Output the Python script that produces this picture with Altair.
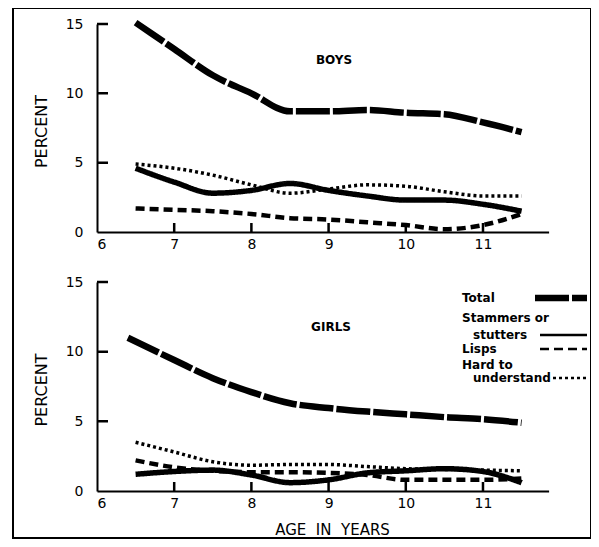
import altair as alt
import pandas as pd

# ---------------- data ----------------
ages = [6.5, 7, 7.5, 8, 8.5, 9, 9.5, 10, 10.5, 11, 11.5]
girls_total_ages = [6.4, 7, 7.5, 8, 8.5, 9, 9.5, 10, 10.5, 11, 11.5]
series_names = ["Total", "Stammers or stutters", "Lisps", "Hard to understand"]

boys_total = [15.1, 13.2, 11.3, 10.0, 8.7, 8.7, 8.8, 8.6, 8.5, 7.9, 7.2]
boys_stammers = [4.6, 3.6, 2.8, 3.0, 3.5, 3.0, 2.6, 2.3, 2.3, 2.0, 1.5]
boys_lisps = [1.7, 1.6, 1.5, 1.3, 1.0, 0.9, 0.7, 0.5, 0.2, 0.5, 1.3]
boys_hard = [4.9, 4.6, 4.1, 3.4, 2.8, 3.1, 3.4, 3.3, 2.9, 2.6, 2.6]

girls_total = [11.0, 9.4, 8.1, 7.1, 6.3, 5.95, 5.7, 5.5, 5.3, 5.15, 4.9]
girls_stammers = [1.2, 1.4, 1.5, 1.15, 0.6, 0.8, 1.3, 1.45, 1.6, 1.4, 0.6]
girls_lisps = [2.2, 1.7, 1.45, 1.35, 1.35, 1.3, 1.15, 0.8, 0.8, 0.8, 0.9]
girls_hard = [3.5, 2.8, 2.1, 1.85, 1.9, 1.9, 1.75, 1.6, 1.55, 1.5, 1.45]

x_tick_values = [7, 8, 9, 10, 11]
x_label_values = [6, 7, 8, 9, 10, 11]
y_tick_values = [5, 10, 15]
y_label_values = [0, 5, 10, 15]
panel_titles = ["BOYS", "GIRLS"]
legend_lines = ["Total", "Stammers or", "stutters", "Lisps", "Hard to", "understand"]
y_title = "PERCENT"
x_title = "AGE\u00a0\u00a0IN\u00a0\u00a0YEARS"

# ---------------- styling / layout ----------------
FONT = "DejaVu Sans"
W, H = 578, 530
X_LEFT = 84
X_RANGE = [X_LEFT, 535.6]
X_DOMAIN = [6, 11.85]
TICK_LEN_X = 0.65    # inward x-tick length, in percent units
TICK_LEN_Y = 0.1425  # inward y-tick length, in years

TICK = "tick"
dash_scale = alt.Scale(domain=series_names + [TICK],
                       range=[[34, 3], [1, 0], [9, 5], [3, 3], [1, 0]])
width_scale = alt.Scale(domain=series_names + [TICK], range=[6.5, 2.5, 2.5, 2.5, 2])
one_row = alt.Data(values=[{"k": 1}])


def long_frame(series_lists, age_lists):
    rows = []
    for name, vals, ag in zip(series_names, series_lists, age_lists):
        for a, v in zip(ag, vals):
            rows.append({"age": a, "value": v, "series": name, "seg": name})
    # inward-pointing axis ticks, drawn as short two-point segments
    for t in x_tick_values:
        for v in (0, TICK_LEN_X):
            rows.append({"age": t, "value": v, "series": TICK, "seg": f"x{t}"})
    for t in y_tick_values:
        for a in (X_DOMAIN[0], X_DOMAIN[0] + TICK_LEN_Y):
            rows.append({"age": a, "value": t, "series": TICK, "seg": f"y{t}"})
    return pd.DataFrame(rows)


boys_df = long_frame([boys_total, boys_stammers, boys_lisps, boys_hard], [ages] * 4)
girls_df = long_frame([girls_total, girls_stammers, girls_lisps, girls_hard],
                      [girls_total_ages, ages, ages, ages])


def xscale():
    return alt.Scale(domain=X_DOMAIN, range=X_RANGE, nice=False, zero=False)


def yscale(y_bottom, y_top):
    return alt.Scale(domain=[0, 15], range=[y_bottom, y_top], nice=False, zero=False)


def panel_lines(df, y_bottom, y_top, label_x_title):
    x_axis_kwargs = dict(
        orient="bottom", offset=-(H - y_bottom), values=x_label_values, format="d",
        ticks=False, grid=False, labelPadding=5, labelFontSize=14, labelFont=FONT,
        labelColor="black", domainColor="black", domainWidth=2,
    )
    if label_x_title:
        x_axis_kwargs.update(title=x_title, titleFont=FONT, titleFontSize=15,
                             titleFontWeight="normal", titleColor="black",
                             titleX=319, titleY=38, titleBaseline="middle")
    else:
        x_axis_kwargs.update(title=None)
    y_axis = alt.Axis(
        orient="left", offset=-X_LEFT, values=y_label_values, ticks=False, grid=False,
        labelPadding=14, labelFontSize=14, labelFont=FONT, labelColor="black",
        domainColor="black", domainWidth=2,
        title=y_title, titleFont=FONT, titleFontSize=16, titleFontWeight="normal",
        titleColor="black", titleAngle=-90, titleX=-56,
        titleY=(y_bottom + y_top) / 2 + 3, titleBaseline="middle")
    return alt.Chart(df).mark_line(color="black", interpolate="monotone",
                                   strokeCap="butt").encode(
        x=alt.X("age:Q", scale=xscale(), axis=alt.Axis(**x_axis_kwargs)),
        y=alt.Y("value:Q", scale=yscale(y_bottom, y_top), axis=y_axis),
        strokeDash=alt.StrokeDash("series:N", scale=dash_scale, legend=None),
        strokeWidth=alt.StrokeWidth("series:N", scale=width_scale, legend=None),
        detail="seg:N",
    )


def text_at(txt, x, y, align="center", size=12):
    return alt.Chart(one_row).mark_text(
        font=FONT, fontSize=size, fontWeight="bold", color="black",
        align=align, baseline="middle").encode(
        x=alt.value(x), y=alt.value(y), text=alt.value(txt))


layers = [
    panel_lines(boys_df, 224, 16, False),
    panel_lines(girls_df, 483, 274, True),
    text_at(panel_titles[0], 321, 52),
    text_at(panel_titles[1], 318, 319),
]

# ---------------- hand-made legend (inside girls panel) ----------------
legend_text_pos = [(449, 290), (449, 310), (460, 327), (449, 341), (449, 357), (460, 370)]
for txt, (lx, ly) in zip(legend_lines, legend_text_pos):
    layers.append(text_at(txt, lx, ly, align="left"))

legend_samples = [
    (522, 574, 290, [34, 3], 6.5),
    (527, 574, 327, [1, 0], 2.5),
    (527, 574, 341, [9, 5], 2.5),
    (540, 574, 370, [3, 3], 2.5),
]
for x1, x2, ly, dash, sw in legend_samples:
    layers.append(alt.Chart(one_row).mark_rule(
        color="black", strokeDash=dash, strokeWidth=sw, strokeCap="butt").encode(
        x=alt.value(x1), x2=alt.value(x2), y=alt.value(ly)))

chart = alt.layer(*layers).resolve_scale(
    x="independent", y="independent"
).properties(
    width=W, height=H,
    padding={"left": 5, "top": 0, "right": 0, "bottom": 1},
    autosize=alt.AutoSizeParams(type="none"),
).configure(
    background="white",
    view=alt.ViewConfig(stroke="black", strokeWidth=2),
)

chart.save("out.html", embed_options={"renderer": "svg", "actions": False})
